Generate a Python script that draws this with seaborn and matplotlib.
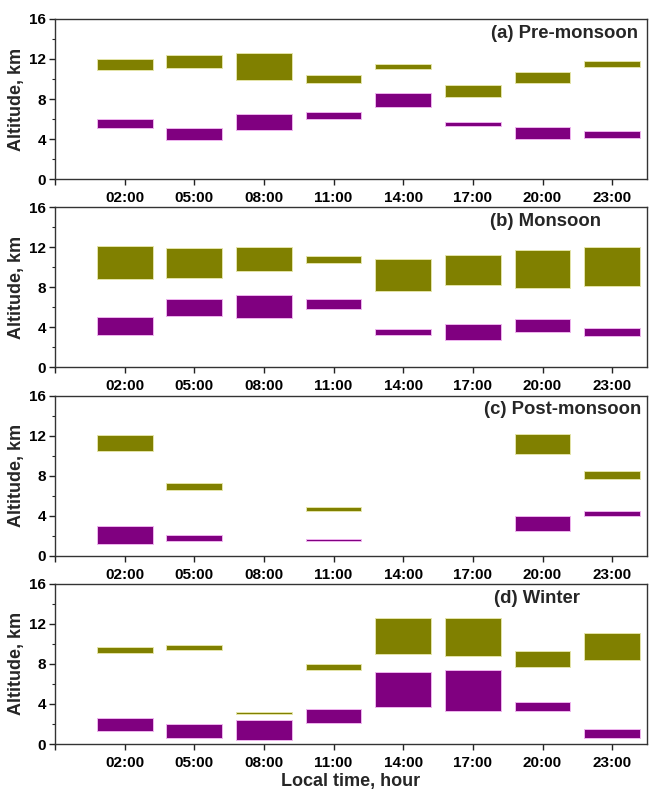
import numpy as np
import pandas as pd
import seaborn as sns
import matplotlib.pyplot as plt
from matplotlib.ticker import MultipleLocator

times = ["02:00", "05:00", "08:00", "11:00", "14:00", "17:00", "20:00", "23:00"]
seasons = ["(a) Pre-monsoon", "(b) Monsoon", "(c) Post-monsoon", "(d) Winter"]
nan = np.nan

# upper layer (olive), base / top in km
pre_up_lo = [10.9, 11.1, 9.95, 9.6, 11.0, 8.2, 9.6, 11.2]
pre_up_hi = [12.0, 12.4, 12.55, 10.4, 11.5, 9.4, 10.7, 11.8]
mon_up_lo = [8.85, 8.98, 9.6, 10.42, 7.65, 8.28, 7.92, 8.12]
mon_up_hi = [12.16, 11.9, 12.02, 11.09, 10.85, 11.22, 11.69, 11.99]
post_up_lo = [10.49, 6.6, nan, 4.45, nan, nan, 10.19, 7.63]
post_up_hi = [12.02, 7.3, nan, 4.88, nan, nan, 12.15, 8.43]
win_up_lo = [9.05, 9.38, 2.96, 7.39, 8.98, 8.82, 7.72, 8.38]
win_up_hi = [9.65, 9.91, 3.16, 7.95, 12.54, 12.54, 9.25, 11.11]

# lower layer (purple), base / top in km
pre_low_lo = [5.15, 3.96, 4.9, 6.0, 7.2, 5.3, 4.05, 4.15]
pre_low_hi = [6.0, 5.15, 6.5, 6.75, 8.65, 5.7, 5.2, 4.8]
mon_low_lo = [3.27, 5.11, 4.94, 5.81, 3.27, 2.77, 3.57, 3.11]
mon_low_hi = [5.04, 6.81, 7.21, 6.88, 3.84, 4.34, 4.84, 3.94]
post_low_lo = [1.13, 1.49, nan, 1.43, nan, nan, 2.46, 3.98]
post_low_hi = [2.92, 2.06, nan, 1.66, nan, nan, 3.98, 4.45]
win_low_lo = [1.33, 0.6, 0.43, 2.06, 3.73, 3.26, 3.33, 0.57]
win_low_hi = [2.6, 1.96, 2.4, 3.53, 7.15, 7.42, 4.19, 1.46]

upper = [(pre_up_lo, pre_up_hi), (mon_up_lo, mon_up_hi),
         (post_up_lo, post_up_hi), (win_up_lo, win_up_hi)]
lower = [(pre_low_lo, pre_low_hi), (mon_low_lo, mon_low_hi),
         (post_low_lo, post_low_hi), (win_low_lo, win_low_hi)]

rows = []
for s, (up, low) in enumerate(zip(upper, lower)):
    for layer, (lo, hi) in (("upper", up), ("lower", low)):
        for t, a, b in zip(times, lo, hi):
            rows.append({"season": seasons[s], "time": t, "layer": layer, "lo": a, "hi": b})
df = pd.DataFrame(rows)
df["depth"] = df["hi"] - df["lo"]

sns.set_style("ticks")
plt.rcParams["font.family"] = ["Liberation Sans", "DejaVu Sans"]
plt.rcParams["font.weight"] = "bold"

colors = {"upper": ("#808000", "#e4e4a8"), "lower": ("#800080", "#eeb4ee")}
label_x = [0.985, 0.922, 0.99, 0.887]

fig, axes = plt.subplots(4, 1, figsize=(6.51, 7.89), dpi=100)
plt.subplots_adjust(left=0.0845, right=0.9939, top=0.976, bottom=0.057, hspace=0.175)

for i, ax in enumerate(axes):
    for layer in ["upper", "lower"]:
        sub = df[(df["season"] == seasons[i]) & (df["layer"] == layer)].dropna()
        fc, ec = colors[layer]
        sns.barplot(data=sub, x="time", y="depth", order=times, bottom=sub["lo"].to_numpy(),
                    color=fc, saturation=1, width=0.8, errorbar=None,
                    edgecolor=ec, linewidth=0.7, ax=ax)
    ax.set_xlim(-1, 7.5)
    ax.set_ylim(0, 16)
    ax.set_xticks(range(-1, 8))
    ax.set_xticklabels([""] + times)
    ax.set_yticks([0, 4, 8, 12, 16])
    ax.yaxis.set_minor_locator(MultipleLocator(2))
    ax.tick_params(axis="both", which="major", direction="out", length=4.5, width=1,
                   labelsize=11, pad=2, colors="#222222", labelcolor="black")
    ax.tick_params(axis="x", pad=4)
    ax.tick_params(axis="y", which="minor", direction="out", length=2.5, width=0.8)
    for lab in ax.get_xticklabels() + ax.get_yticklabels():
        lab.set_fontweight("bold")
    for sp in ax.spines.values():
        sp.set_visible(True)
        sp.set_linewidth(1)
        sp.set_color("#333333")
    ax.set_xlabel("")
    ax.set_ylabel("Altitude, km", fontsize=13, fontweight="bold", labelpad=3)
    ax.text(label_x[i], 0.91, seasons[i], transform=ax.transAxes, ha="right", va="center",
            fontsize=13.3, fontweight="bold")

axes[-1].set_xlabel("Local time, hour", fontsize=13, fontweight="bold", labelpad=2)

plt.savefig("out.png", dpi=100)
